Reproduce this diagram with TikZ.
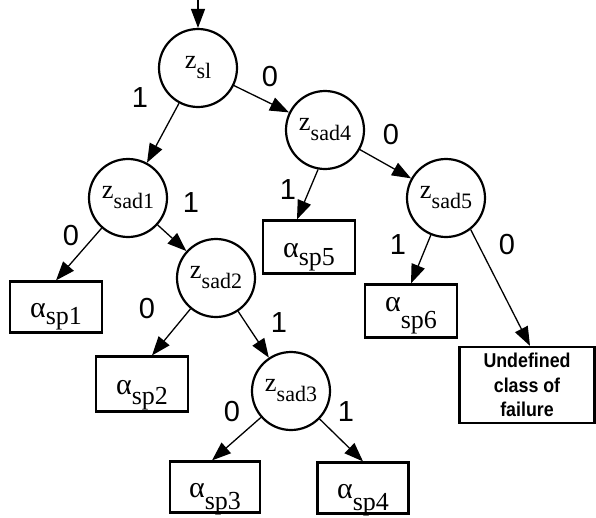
\documentclass[tikz,border=0pt]{standalone}
\usepackage{fontspec}
\usepackage{graphicx}
\setmainfont{Liberation Serif}
\newfontfamily\lblfont{Liberation Sans}
\usetikzlibrary{arrows.meta}
\newcommand\zsb[1]{\scalebox{1.2}{z}\raisebox{-10pt}{#1}}
\newcommand\alsb[2]{\scalebox{1.15}{α}\raisebox{-#2pt}{#1}}
\newcommand\nrw[1]{\scalebox{0.89}[1]{#1}}
\begin{document}
\begin{tikzpicture}[x=1pt,y=-1pt,
  zc/.style={circle,draw,line width=2.2pt,minimum size=78pt,inner sep=0pt,
    font=\fontsize{22}{24}\selectfont,text height=10pt,text depth=10pt},
  ab/.style={rectangle,draw,line width=2.2pt,minimum width=92pt,minimum height=51pt,inner sep=0pt,
    font=\fontsize{26}{28}\selectfont,text height=22pt,text depth=2pt},
  ub/.style={rectangle,draw,line width=2.2pt,minimum width=135pt,minimum height=76pt,inner sep=0pt,
    align=center,font=\lblfont\bfseries\fontsize{20}{24.5}\selectfont},
  lb/.style={inner sep=0pt,font=\lblfont\fontsize{29}{30}\selectfont},
  arr/.style={line width=1.3pt,-{Triangle[length=19pt,width=14pt]}}]
\useasboundingbox (0,0) rectangle (596,517);
% circles
\node[zc] (zs1) at (198,68) {\zsb{sl}};
\node[zc] (zsad4) at (325,130) {\zsb{sad4}};
\node[zc] (zsad1) at (128,198) {\zsb{sad1}};
\node[zc] (zsad2) at (216,278) {\zsb{sad2}};
\node[zc] (zsad5) at (446,198) {\zsb{sad5}};
\node[zc] (zsad3) at (291,391) {\zsb{sad3}};
% boxes
\node[ab] (asp1) at (56,307) {\alsb{sp1}{7}};
\node[ab,minimum height=53pt] (asp5) at (309,247) {\alsb{sp5}{8}};
\node[ab,minimum height=53pt,text height=10pt,text depth=10pt] (asp6) at (411,311) {\alsb{sp6}{17}};
\node[ab,minimum height=55pt] (asp2) at (142,384) {\alsb{sp2}{10}};
\node[ab,minimum width=90pt] (asp3) at (215,487) {\alsb{sp3}{12}};
\node[ab,minimum width=91pt] (asp4) at (363,488) {\alsb{sp4}{12}};
\node[ub] (undef) at (527,385) {\nrw{Undefined}\\\nrw{class of}\\\nrw{failure}};
% entry
\coordinate (topin) at (198,0);
% edges
\draw[arr] (topin) -- (zs1.north);
\draw[arr] (zs1) -- (zsad1);
\draw[arr] (zs1) -- (zsad4);
\draw[arr] (zsad1) -- (asp1.north);
\draw[arr] (zsad1) -- (zsad2);
\draw[arr] (zsad2) -- ([xshift=10pt]asp2.north);
\draw[arr] (zsad2) -- (zsad3);
\draw[arr] (zsad3) -- ([xshift=-3pt]asp3.north);
\draw[arr] (zsad3) -- (asp4.north);
\draw[arr] (zsad4) -- (zsad5);
\draw[arr] (zsad4.260) -- ([xshift=-12pt]asp5.north);
\draw[arr] (zsad5) -- (asp6.north);
\draw[arr] (zsad5.-52) -- ([xshift=3pt]undef.north);
% labels
\node[lb] (l1) at (140,98) {1};
\node[lb] (l2) at (270,77) {0};
\node[lb] (l3) at (191,203) {1};
\node[lb] (l4) at (71,236) {0};
\node[lb] (l5) at (147,309) {0};
\node[lb] (l6) at (279,323) {1};
\node[lb] (l7) at (232,412) {0};
\node[lb] (l8) at (346,412) {1};
\node[lb] (l9) at (391,135) {0};
\node[lb] (l10) at (288,190) {1};
\node[lb] (l11) at (398,245) {1};
\node[lb] (l12) at (507,245) {0};
\end{tikzpicture}
\end{document}
